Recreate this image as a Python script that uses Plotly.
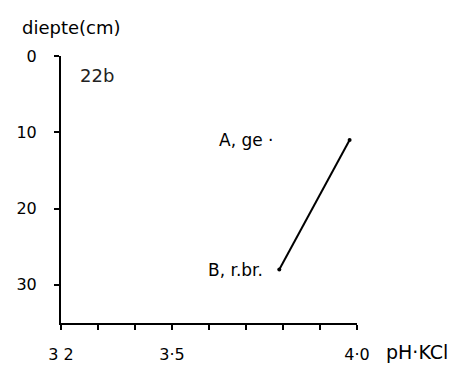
import plotly.graph_objects as go

# Soil profile 22b: pH-KCl against depth for horizons A and B
horizons = ["A, ge ·", "B, r.br."]
ph_kcl = [3.98, 3.79]
depth_cm = [11, 28]

x_ticks = [3.2, 3.3, 3.4, 3.5, 3.6, 3.7, 3.8, 3.9, 4.0]
x_ticktext = ["3 2", "", "", "3·5", "", "", "", "", "4·0"]
y_ticks = [0, 10, 20, 30]
y_ticktext = ["0", "10", "20", "30"]

font_family = "DejaVu Sans"

fig = go.Figure()
fig.add_trace(go.Scatter(
    x=ph_kcl, y=depth_cm, mode="lines+markers",
    line=dict(color="black", width=2),
    marker=dict(color="black", size=4),
    showlegend=False, hoverinfo="skip",
))

# horizon labels, placed to the left of each point
label_offsets = [-0.2, -0.04]
for name, x, y, dx in zip(horizons, ph_kcl, depth_cm, label_offsets):
    fig.add_annotation(x=x + dx, y=y, text=name, showarrow=False,
                       xanchor="right", yanchor="middle",
                       font=dict(family=font_family, size=17, color="black"))

fig.add_annotation(x=3.245, y=2.5, text="22b", showarrow=False,
                   xanchor="left", yanchor="middle",
                   font=dict(family=font_family, size=18, color="#222"))
fig.add_annotation(x=1.09, xref="paper", y=-0.11, yref="paper", text="pH·KCl",
                   showarrow=False, xanchor="left", yanchor="middle",
                   font=dict(family=font_family, size=19, color="black"))
fig.add_annotation(x=-0.14, xref="paper", y=1.06, yref="paper", text="diepte(cm)",
                   showarrow=False, xanchor="left", yanchor="bottom",
                   font=dict(family=font_family, size=18, color="black"))

fig.update_xaxes(
    range=[3.2, 4.0], tickvals=x_ticks, ticktext=x_ticktext,
    showline=True, linecolor="black", linewidth=2,
    ticks="outside", ticklen=5, tickwidth=2, tickcolor="black",
    showgrid=False, zeroline=False, ticklabelstandoff=11, automargin=False,
    tickfont=dict(family=font_family, size=16, color="black"),
)
fig.update_yaxes(
    range=[35, 0], tickvals=y_ticks, ticktext=y_ticktext,
    showline=True, linecolor="black", linewidth=2,
    ticks="outside", ticklen=5, tickwidth=2, tickcolor="black",
    showgrid=False, zeroline=False, ticklabelstandoff=14, automargin=False,
    tickfont=dict(family=font_family, size=16, color="black"),
)

fig.update_layout(
    width=467, height=370,
    margin=dict(l=61, r=110, t=56, b=47),
    plot_bgcolor="white", paper_bgcolor="white",
)

fig.write_html("out.html")
